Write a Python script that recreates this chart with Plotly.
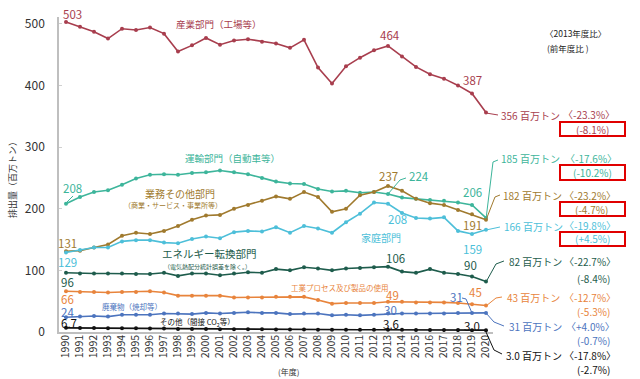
import plotly.graph_objects as go

years = list(range(1990, 2021))
industry = [503, 495, 487, 476, 492, 490, 494, 484, 455, 465, 477, 466, 473, 475, 471, 468, 461, 474,
            429, 403, 431, 445, 457, 464, 447, 430, 418, 411, 400, 387, 356]
transport = [208, 219, 227, 230, 239, 249, 255, 256, 255, 258, 259, 262, 259, 256, 250, 244, 241, 240,
             232, 228, 229, 226, 227, 224, 218, 216, 214, 213, 210, 206, 185]
commercial = [131, 132, 137, 142, 156, 161, 159, 164, 172, 182, 189, 190, 200, 206, 213, 220, 216, 227,
              219, 195, 200, 222, 227, 237, 229, 216, 209, 206, 198, 191, 182]
household = [129, 133, 137, 137, 147, 149, 149, 145, 144, 151, 155, 152, 162, 164, 163, 170, 161, 172,
             168, 161, 178, 192, 210, 208, 193, 185, 184, 186, 164, 159, 166]
energy = [96, 95, 95, 95, 95, 94, 94, 96, 91, 95, 95, 92, 95, 97, 96, 102, 100, 105, 103, 100, 103, 104,
          105, 106, 98, 96, 102, 96, 94, 90, 82]
process = [66, 65, 65, 64, 65, 65, 66, 64, 59, 59, 59, 59, 56, 56, 56, 57, 57, 57, 52, 46, 47, 47, 47,
           49, 49, 48, 48, 48, 47, 45, 43]
waste = [24, 25, 26, 25, 28, 28, 28, 30, 30, 29, 31, 30, 31, 32, 31, 31, 29, 30, 30, 27, 28, 27, 28, 30,
         30, 30, 30, 30, 31, 31, 31]
other = [6.7, 6.5, 6.3, 6.1, 6.0, 5.9, 5.7, 5.5, 5.0, 4.9, 4.8, 4.6, 4.5, 4.4, 4.3, 4.2, 4.1, 4.0, 3.8,
         3.7, 3.7, 3.6, 3.6, 3.6, 3.5, 3.4, 3.3, 3.2, 3.1, 3.0, 3.0]

C_IND = "#A83E4E"
C_TRA = "#3DB59B"
C_COM = "#A07A2E"
C_HOU = "#4DBFD9"
C_ENE = "#1E5C4C"
C_PRO = "#E8843C"
C_WAS = "#4C74BE"
C_OTH = "#111111"

series = [
    (industry, C_IND), (transport, C_TRA), (commercial, C_COM), (household, C_HOU),
    (energy, C_ENE), (process, C_PRO), (waste, C_WAS), (other, C_OTH),
]

FONT = "Noto Sans CJK JP"

# plot area in pixels
L, R, T, B = 59, 493, 17, 332


def px(x):
    return (x - L) / (R - L)


def py(y):
    return (B - y) / (B - T)


fig = go.Figure()
for vals, col in series:
    fig.add_trace(go.Scatter(x=years, y=vals, mode="lines+markers",
                             line=dict(color=col, width=1.6),
                             marker=dict(color=col, size=4),
                             showlegend=False, hoverinfo="skip"))

ann = []


def lab(text, x, y, color, size=11, xanchor="center"):
    ann.append(dict(text=text, x=px(x), y=py(y), xref="paper", yref="paper",
                    xanchor=xanchor, yanchor="middle", showarrow=False, borderpad=0,
                    font=dict(color=color, size=size, family=FONT)))


def fmt(v):
    return f"{v:g}" if isinstance(v, int) or v >= 10 else f"{v:.1f}"


RS = 10  # right label font size
NS = 11.5  # value label font size

# industry
lab(fmt(industry[0]), 72, 14, C_IND, NS)
lab("産業部門（工場等）", 219, 24, C_IND, 9.5)
lab(fmt(industry[23]), 390, 35, C_IND, NS)
lab(fmt(industry[29]), 472, 80, C_IND, NS)
lab(f"{industry[-1]} 百万トン", 500, 115, C_IND, RS, "left")
lab("〈-23.3%〉", 589, 114, C_IND, RS)
lab("(-8.1%)", 592, 129, C_IND, RS)
lab("〈2013年度比〉", 575, 33, "#222", 8.5)
lab("(前年度比 )", 546, 48, "#222", 8.5, "left")

# transport
lab("運輸部門（自動車等）", 232, 158, C_TRA, 9.5)
lab(fmt(transport[0]), 72, 188, C_TRA, NS)
lab(fmt(transport[23]), 419, 176, C_TRA, NS)
lab(fmt(transport[29]), 472, 192, C_TRA, NS)
lab(f"{transport[-1]} 百万トン", 500, 159, C_TRA, RS, "left")
lab("〈-17.6%〉", 591, 158, C_TRA, RS)
lab("(-10.2%)", 592, 172, C_TRA, RS)

# commercial
lab(fmt(commercial[0]), 67, 243, C_COM, NS)
lab("業務その他部門", 180, 193, C_COM, 10)
lab("（商業・サービス・事業所等）", 173, 205, C_COM, 7)
lab(fmt(commercial[23]), 388, 176, C_COM, NS)
lab(fmt(commercial[29]), 472, 225, C_COM, NS)
lab(f"{commercial[-1]} 百万トン", 502, 195, C_COM, RS, "left")
lab("〈-23.2%〉", 590, 195, C_COM, RS)
lab("(-4.7%)", 591, 209, C_COM, RS)

# household
lab(fmt(household[0]), 67, 262, C_HOU, NS)
lab(fmt(household[23]), 397, 219, C_HOU, NS)
lab("家庭部門", 381, 237, C_HOU, 10)
lab(fmt(household[29]), 472, 249, C_HOU, NS)
lab(f"{household[-1]} 百万トン", 503, 226, C_HOU, RS, "left")
lab("〈-19.8%〉", 590, 225, C_HOU, RS)
lab("(+4.5%)", 592, 239, C_HOU, RS)

# energy
lab(fmt(energy[0]), 67, 282, C_ENE, NS)
lab("エネルギー転換部門", 209, 253, C_ENE, 10.5)
lab("（電気熱配分統計誤差を除く。）", 207, 266, C_ENE, 6)
lab(fmt(energy[23]), 395, 258, C_ENE, NS)
lab(fmt(energy[29]), 470, 265, C_ENE, NS)
lab(f"{energy[-1]} 百万トン", 508, 261, C_ENE, RS, "left")
lab("〈-22.7%〉", 590, 261, C_ENE, RS)
lab("(-8.4%)", 593, 278, C_ENE, RS)

# process
lab(fmt(process[0]), 67, 299, C_PRO, NS)
lab("工業プロセス及び製品の使用", 340, 287, C_PRO, 7.5)
lab(fmt(process[23]), 392, 295, C_PRO, NS)
lab(fmt(process[29]), 475, 292, C_PRO, NS)
lab(f"{process[-1]} 百万トン", 506, 297, C_PRO, RS, "left")
lab("〈-12.7%〉", 590, 297, C_PRO, RS)
lab("(-5.3%)", 593, 311, C_PRO, RS)

# waste
lab(fmt(waste[0]), 67, 312, C_WAS, NS)
lab("廃棄物（焼却等）", 132, 306, C_WAS, 7.5)
lab(fmt(waste[23]), 390, 310, C_WAS, NS)
lab(fmt(waste[29]), 456, 297, C_WAS, NS)
lab(f"{waste[-1]} 百万トン", 508, 326, C_WAS, RS, "left")
lab("〈+4.0%〉", 590, 326, C_WAS, RS)
lab("(-0.7%)", 593, 341, C_WAS, RS)

# other
lab(fmt(other[0]), 69, 323, C_OTH, NS)
lab("その他（間接 CO<sub>2</sub>等）", 197, 322, C_OTH, 7.5)
lab(fmt(other[23]), 391, 324, C_OTH, NS)
lab(fmt(other[29]), 472, 326, C_OTH, NS)
lab(f"{other[-1]:.1f} 百万トン", 505, 355, C_OTH, RS, "left")
lab("〈-17.8%〉", 590, 355, C_OTH, RS)
lab("(-2.7%)", 593, 369, C_OTH, RS)

lab("(年度)", 288, 371, "#333", 8)

ann.append(dict(text="排出量（百万トン）", x=px(12), y=py(178), xref="paper", yref="paper",
                textangle=-90, showarrow=False, xanchor="center", yanchor="middle",
                font=dict(color="#333", size=9, family=FONT)))

shapes = []


def path(points, color):
    d = "M " + " L ".join(f"{px(a):.4f},{py(b):.4f}" for a, b in points)
    shapes.append(dict(type="path", path=d, xref="paper", yref="paper",
                       line=dict(color=color, width=1)))


path([(486, 113), (498, 115)], C_IND)
path([(486, 219), (493, 162), (498, 160)], C_TRA)
path([(486, 220), (495, 197), (500, 195)], C_COM)
path([(486, 230), (500, 227)], C_HOU)
path([(486, 282), (496, 264), (504, 261)], C_ENE)
path([(486, 306), (496, 298), (502, 297)], C_PRO)
path([(486, 313), (494, 322), (504, 326)], C_WAS)
path([(486, 332), (494, 350), (502, 354)], C_OTH)
path([(462, 298), (466, 299), (472, 313)], C_WAS)
path([(406, 178), (400, 180), (388, 194)], C_TRA)
path([(73, 196), (66, 203)], C_TRA)

for y0, y1 in [(122, 136), (165, 180), (202, 216), (232, 246)]:
    shapes.append(dict(type="rect", xref="paper", yref="paper",
                       x0=px(560), x1=px(625), y0=py(y1), y1=py(y0),
                       line=dict(color="#E00000", width=2), fillcolor="rgba(0,0,0,0)"))

fig.update_layout(
    width=640, height=379,
    margin=dict(l=L, r=640 - R, t=T, b=379 - B, pad=0),
    plot_bgcolor="white", paper_bgcolor="white",
    font=dict(family=FONT, color="#333"),
    annotations=ann, shapes=shapes,
    xaxis=dict(range=[1989.5, 2020.5], tickmode="array", tickvals=years,
               ticktext=[str(y) for y in years], tickangle=-90,
               tickfont=dict(size=10.5, color="#333", family=FONT),
               showline=True, linecolor="#BFBFBF", linewidth=1.5,
               showgrid=False, zeroline=False, ticks="", ticklabelstandoff=-3),
    yaxis=dict(range=[0, 511], tickmode="array", tickvals=[0, 100, 200, 300, 400, 500],
               tickfont=dict(size=12, color="#333", family=FONT),
               showline=True, linecolor="#BFBFBF", linewidth=1.5,
               ticks="inside", ticklen=3, tickcolor="#D0D0D0",
               showgrid=False, zeroline=False, ticklabelstandoff=10),
)

fig.write_html("out.html", config={"displayModeBar": False},
               post_script="document.body.style.margin='0';document.body.style.overflow='hidden';")
